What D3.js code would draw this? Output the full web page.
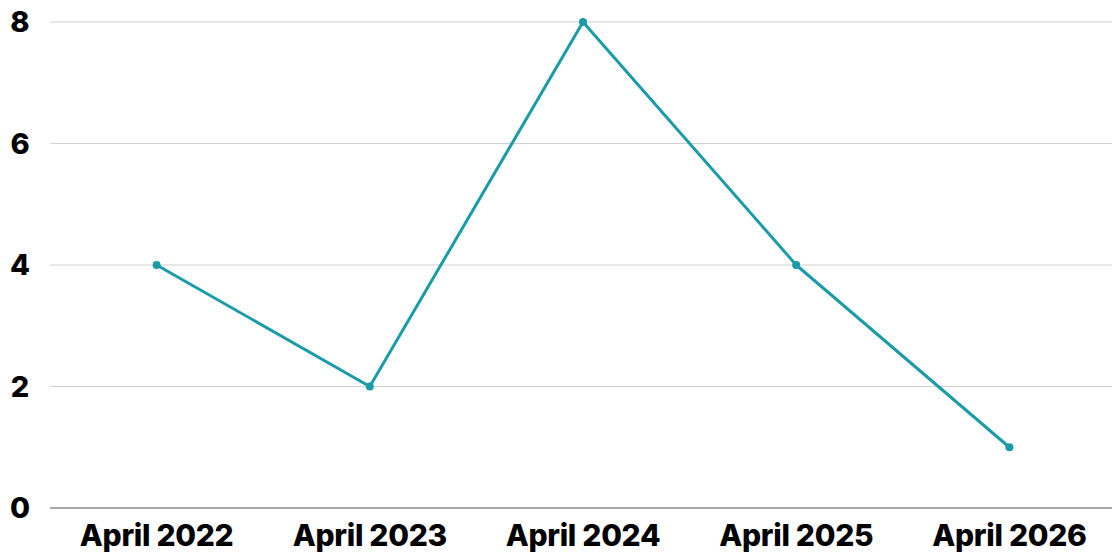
<!DOCTYPE html>
<html><head><meta charset="utf-8">
<script src="https://cdn.jsdelivr.net/npm/d3@7"></script>
<style>body{margin:0;background:#fff}svg{display:block}</style>
</head><body><svg id="c" width="1112" height="552"></svg>
<script>
const categories = ["April 2022","April 2023","April 2024","April 2025","April 2026"];
const values = [4, 2, 8, 4, 1];
const yTicks = [0, 2, 4, 6, 8];

const W = 1112, H = 552;
const m = {left: 50, right: -4, top: 22, bottom: 44};
const svg = d3.select("#c");
const x = d3.scaleBand().domain(categories).range([m.left, W - m.right]);
const y = d3.scaleLinear().domain([0, 8]).range([H - m.bottom, m.top]);
const font = "Inter, 'Noto Sans', sans-serif";

svg.append("g").selectAll("line").data(yTicks).join("line")
  .attr("x1", m.left).attr("x2", W)
  .attr("y1", d => y(d)).attr("y2", d => y(d))
  .attr("stroke", d => d === 0 ? "#8a8a8a" : "#d0d0d0")
  .attr("stroke-width", d => d === 0 ? 1.5 : 1);

svg.append("g").selectAll("text").data(yTicks).join("text")
  .attr("x", 20).attr("y", d => y(d)).attr("dy", "0.36em")
  .attr("text-anchor", "middle")
  .attr("font-family", font).attr("font-weight", 800).attr("font-size", 29)
  .attr("fill", "#000").text(d => d);

svg.append("g").selectAll("text").data(categories).join("text")
  .attr("x", d => x(d) + x.bandwidth() / 2).attr("y", 546)
  .attr("text-anchor", "middle")
  .attr("font-family", font).attr("font-weight", 800).attr("font-size", 30)
  .attr("letter-spacing", -0.3)
  .attr("fill", "#000").text(d => d);

const pts = categories.map((c, i) => [x(c) + x.bandwidth() / 2, y(values[i])]);
svg.append("path").attr("d", d3.line()(pts))
  .attr("fill", "none").attr("stroke", "#1a9ca8").attr("stroke-width", 3)
  .attr("stroke-linejoin", "round");
svg.append("g").selectAll("circle").data(pts).join("circle")
  .attr("cx", d => d[0]).attr("cy", d => d[1]).attr("r", 4)
  .attr("fill", "#1a9ca8");
</script></body></html>
